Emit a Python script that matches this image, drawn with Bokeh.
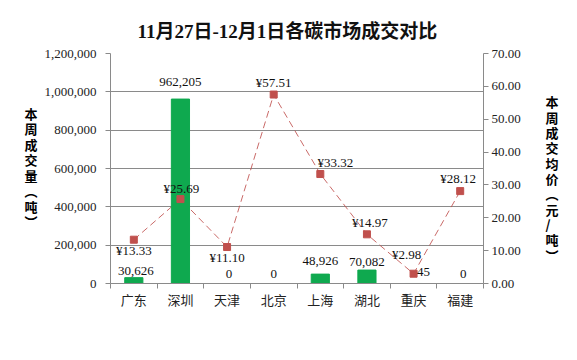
from bokeh.plotting import figure
from bokeh.models import (Range1d, LinearAxis, FixedTicker, SingleIntervalTicker,
                          NumeralTickFormatter, Title, Legend, LegendItem, ColumnDataSource)
from bokeh.core.properties import value
from bokeh.embed import file_html
from bokeh.resources import INLINE

# ---- data ----
markets = ["广东", "深圳", "天津", "北京", "上海", "湖北", "重庆", "福建"]
volumes = [30626, 962205, 0, 0, 48926, 70082, 45, 0]
prices = [13.33, 25.69, 11.10, 57.51, 33.32, 14.97, 2.98, 28.12]
title_text = "11月27日-12月1日各碳市场成交对比"
vol_series_name = "本周成交量（吨）"
price_series_name = "本周成交均价（元/吨）"
vol_axis_title = "本周成交量︵吨︶"
price_axis_title = "本周成交均价︵元/吨︶"

# ---- label placement (style) ----
vol_label_dx = [2, 0, 2, 0, 0, 0, 10, 3]
vol_label_dy = [-7, -17, -10, -10, -13, -8, -11, -10]
price_label_dx = [0, 1, 0, 0, 15, 3, -7, -2]
price_label_dy = [11, -11, 10, -12, -12, -12, -19, -13]

SERIF = "Liberation Serif, Noto Sans CJK SC"
CJK = "Noto Sans CJK SC"
GREEN = "#0fa94f"
RED = "#c0504d"
GRID = "#8a8a8a"

n = len(markets)
xs = [i + 0.5 for i in range(n)]

src = ColumnDataSource(dict(
    x=xs, vol=volumes, price=prices,
    vol_text=[f"{v:,}" for v in volumes],
    price_text=[f"¥{p:.2f}" for p in prices],
    vdx=vol_label_dx, vdy=vol_label_dy,
    pdx=price_label_dx, pdy=price_label_dy,
))

FRAME_H = 230
p = figure(frame_width=373, frame_height=FRAME_H, output_backend="svg", toolbar_location=None,
           x_range=Range1d(0, n), y_range=Range1d(0, 1200000),
           min_border_left=110, min_border_right=60, min_border_top=53,
           min_border_bottom=0, x_axis_location=None, y_axis_location=None)
p.extra_y_ranges = {"price": Range1d(0, 70), "lbl": Range1d(0, FRAME_H)}
p.outline_line_color = None
p.background_fill_color = "white"
p.border_fill_color = "white"

# axes
xaxis = LinearAxis(ticker=FixedTicker(ticks=xs, minor_ticks=list(range(n + 1))))
xaxis.major_label_overrides = {x: m for x, m in zip(xs, markets)}
xaxis.major_tick_out = 0
xaxis.major_tick_in = 0
xaxis.minor_tick_out = 5
xaxis.minor_tick_in = 0
xaxis.minor_tick_line_color = GRID
xaxis.axis_line_color = GRID
xaxis.major_label_text_font = CJK
xaxis.major_label_text_font_size = "13px"
xaxis.major_label_text_color = "#222222"
xaxis.major_label_standoff = 1
p.add_layout(xaxis, "below")

yticker = SingleIntervalTicker(interval=200000)
laxis = LinearAxis(ticker=yticker, formatter=NumeralTickFormatter(format="0,0"))
laxis.major_tick_out = 5
laxis.major_tick_in = 0
laxis.minor_tick_out = 0
laxis.minor_tick_in = 0
laxis.axis_line_color = GRID
laxis.major_tick_line_color = GRID
laxis.major_label_text_font = "Liberation Serif"
laxis.major_label_text_font_size = "13px"
laxis.major_label_text_color = "#222222"
laxis.major_label_standoff = 9
p.add_layout(laxis, "left")

raxis = LinearAxis(y_range_name="price", ticker=SingleIntervalTicker(interval=10),
                   formatter=NumeralTickFormatter(format="0.00"))
raxis.major_tick_out = 5
raxis.major_tick_in = 0
raxis.minor_tick_out = 0
raxis.minor_tick_in = 0
raxis.axis_line_color = GRID
raxis.major_tick_line_color = GRID
raxis.major_label_text_font = "Liberation Serif"
raxis.major_label_text_font_size = "13px"
raxis.major_label_text_color = "#222222"
raxis.major_label_standoff = 3
p.add_layout(raxis, "right")


def stacked_title_axis(chars, center_from_bottom, step, standoff):
    k = len(chars)
    pos = [int(round(center_from_bottom + ((k - 1) / 2 - i) * step)) for i in range(k)]
    ax = LinearAxis(y_range_name="lbl", ticker=FixedTicker(ticks=pos, minor_ticks=[]))
    ax.major_label_overrides = {pp: c for pp, c in zip(pos, chars)}
    ax.axis_line_color = None
    ax.major_tick_line_color = None
    ax.minor_tick_line_color = None
    ax.major_tick_out = 0
    ax.major_tick_in = 0
    ax.major_label_standoff = standoff
    ax.major_label_text_font = CJK
    ax.major_label_text_font_style = "bold"
    ax.major_label_text_font_size = "13px"
    ax.major_label_text_color = "#000000"
    ax.major_label_text_align = "center"
    return ax

p.add_layout(stacked_title_axis(vol_axis_title, FRAME_H / 2 + 1, 15.5, 4), "left")
p.add_layout(stacked_title_axis(price_axis_title, FRAME_H / 2 - 10, 15.3, 22), "right")

p.xgrid.visible = False
p.ygrid.ticker = yticker
p.ygrid.grid_line_color = GRID

# glyphs
line_r = p.line("x", "price", source=src, y_range_name="price",
                line_color=RED, line_width=1, line_dash="7 4", line_alpha=0.85)
bar_r = p.vbar(x="x", top="vol", width=0.39, source=src,
               fill_color=GREEN, line_color=GREEN)
pt_r = p.scatter("x", "price", source=src, y_range_name="price", marker="square",
                 size=7, fill_color=RED, line_color=RED)

p.text(x="x", y="vol", text="vol_text", source=src, x_offset="vdx", y_offset="vdy",
       text_font=value(SERIF), text_font_size="13px", text_align="center",
       text_baseline="middle", text_color="#111111")
p.text(x="x", y="price", text="price_text", source=src, x_offset="pdx", y_offset="pdy",
       y_range_name="price",
       text_font=value(SERIF), text_font_size="13px", text_align="center",
       text_baseline="middle", text_color="#111111")

# title
p.add_layout(Title(text=title_text, align="left", offset=27, standoff=24,
                   text_font=SERIF, text_font_size="19px", text_font_style="bold",
                   text_color="#111111"), "above")

legend = Legend(items=[LegendItem(label=vol_series_name, renderers=[bar_r]),
                       LegendItem(label=price_series_name, renderers=[line_r, pt_r])],
                orientation="horizontal", location="top_center",
                glyph_width=38, glyph_height=9, spacing=36, padding=0, margin=10,
                label_text_font=CJK, label_text_font_size="13px",
                label_text_color="#111111", label_standoff=4,
                border_line_alpha=0, background_fill_alpha=0)
p.add_layout(legend, "below")

open("out.html", "w").write(file_html(p, INLINE))
